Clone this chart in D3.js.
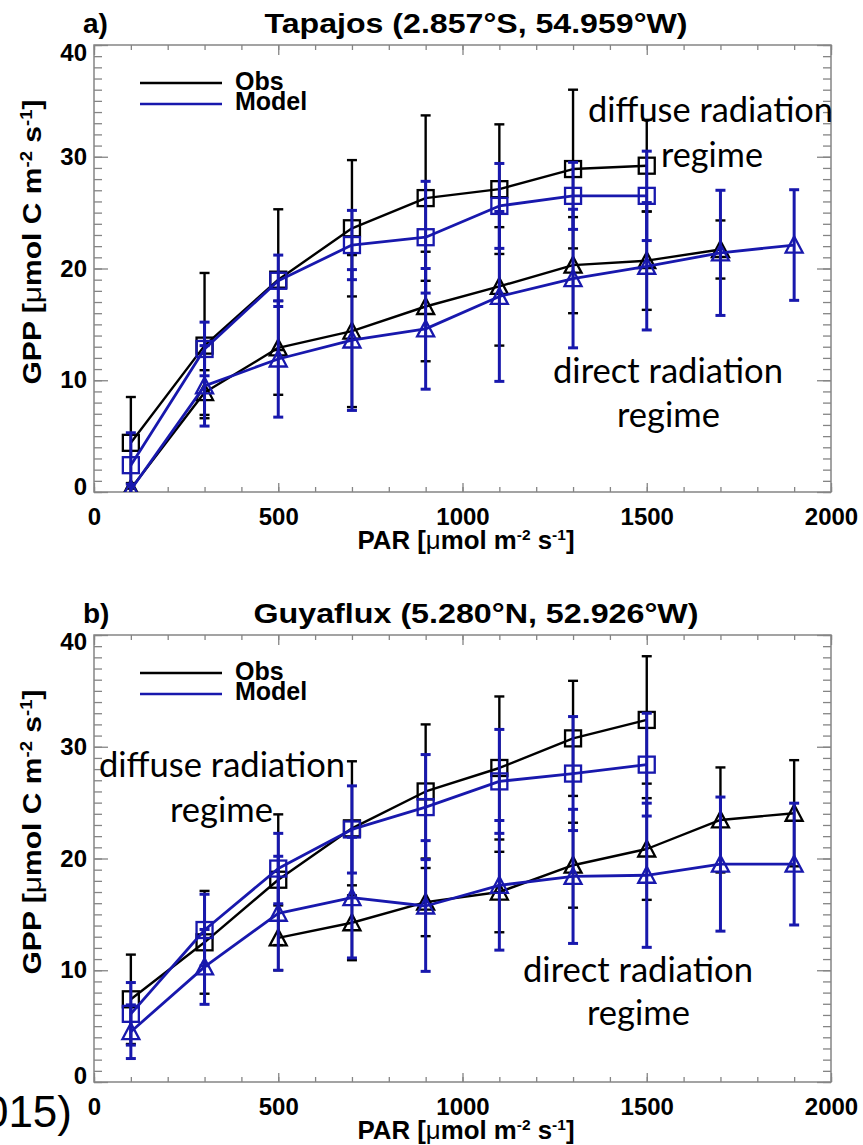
<!DOCTYPE html>
<html>
<head>
<meta charset="utf-8">
<script src="https://cdn.jsdelivr.net/npm/d3@7"></script>
<style>
  body { margin: 0; background: #fff; }
  svg { display: block; }
  .idl text, text.idl { font-family: "Liberation Sans", Arial, sans-serif; font-weight: bold; font-size: 24px; }
  .note { font-family: Lato, "Open Sans", sans-serif; font-size: 34px; }
</style>
</head>
<body>
<div id="chart"></div>
<script>
// PAR bins (µmol m-2 s-1)
const parDiffuse = [100, 300, 500, 700, 900, 1100, 1300, 1500];
const parDirect = [100, 300, 500, 700, 900, 1100, 1300, 1500, 1700, 1900];
const parTapObsDirect = [100, 300, 500, 700, 900, 1100, 1300, 1500, 1700];
const parGuyObsDirect = [500, 700, 900, 1100, 1300, 1500, 1700, 1900];

// a) Tapajos -- squares = diffuse regime, triangles = direct regime
const tapObsDiffuse = [4.4, 13.1, 19.0, 23.6, 26.3, 27.1, 28.9, 29.2];
const tapObsDiffuseSd = [4.1, 6.5, 6.3, 6.1, 7.4, 5.8, 7.1, 4.1];
const tapModelDiffuse = [2.4, 12.8, 18.9, 22.1, 22.8, 25.6, 26.5, 26.5];
const tapModelDiffuseSd = [2.9, 2.4, 2.3, 3.1, 5.0, 3.8, 3.0, 4.0];
const tapObsDirect = [0.3, 8.9, 12.9, 14.4, 16.6, 18.4, 20.3, 20.7, 21.7];
const tapObsDirectSd = [0.5, 2.0, 4.2, 6.8, 4.9, 5.3, 4.3, 4.4, 2.6];
const tapModelDirect = [0.2, 9.5, 11.9, 13.6, 14.6, 17.5, 19.1, 20.2, 21.4, 22.1];
const tapModelDirectSd = [0.5, 3.6, 5.2, 6.3, 5.4, 7.6, 6.2, 5.7, 5.6, 4.95];

// b) Guyaflux
const guyObsDiffuse = [7.4, 12.5, 18.1, 22.7, 26.0, 28.1, 30.75, 32.4];
const guyObsDiffuseSd = [4.0, 4.6, 5.85, 6.0, 6.0, 6.4, 5.15, 5.7];
const guyModelDiffuse = [6.1, 13.6, 19.1, 22.6, 24.6, 26.9, 27.6, 28.4];
const guyModelDiffuseSd = [2.8, 3.2, 3.15, 3.9, 4.7, 4.65, 5.1, 4.6];
const guyObsDirect = [12.9, 14.25, 16.1, 17.0, 19.4, 20.85, 23.45, 24.05];
const guyObsDirectSd = [2.9, 3.35, 3.05, 3.6, 3.8, 4.55, 4.7, 4.75];
const guyModelDirect = [4.5, 10.3, 15.1, 16.5, 15.75, 17.6, 18.4, 18.5, 19.5, 19.5];
const guyModelDirectSd = [2.4, 3.35, 5.1, 5.4, 5.85, 5.8, 6.0, 6.45, 6.0, 5.45];

// axes
const xTicks = [0, 500, 1000, 1500, 2000];
const xTickLabels = ["0", "500", "1000", "1500", "2000"];
const yTicks = [0, 10, 20, 30, 40];
const yTickLabels = ["0", "10", "20", "30", "40"];
const legendLabels = ["Obs", "Model"];

const W = 863, H = 1145;
const OBS = "#000000", MODEL = "#1818ad", FRAME = "#858585";

const svg = d3.select("#chart").append("svg")
    .attr("width", W)
    .attr("height", H);

const x = d3.scaleLinear().domain([0, 2000]).range([94, 831]);

const panels = [
    {
        tag: "a)", title: "Tapajos (2.857°S, 54.959°W)", titleLen: 423, top: 45, bottom: 492,
        labelShift: {0: -5, 40: 8},
        series: [
            {x: parDiffuse, y: tapObsDiffuse, sd: tapObsDiffuseSd, color: OBS, shape: "square"},
            {x: parTapObsDirect, y: tapObsDirect, sd: tapObsDirectSd, color: OBS, shape: "triangle"},
            {x: parDiffuse, y: tapModelDiffuse, sd: tapModelDiffuseSd, color: MODEL, shape: "square"},
            {x: parDirect, y: tapModelDirect, sd: tapModelDirectSd, color: MODEL, shape: "triangle"}
        ],
        notes: [
            {text: "diffuse radiation", x: 588, y: 122, len: 245},
            {text: "regime", x: 661, y: 167, len: 102},
            {text: "direct radiation", x: 553, y: 383, len: 230},
            {text: "regime", x: 617, y: 427, len: 103}
        ]
    },
    {
        tag: "b)", title: "Guyaflux (5.280°N, 52.926°W)", titleLen: 445, top: 635, bottom: 1082,
        labelShift: {0: -6, 40: 7},
        series: [
            {x: parDiffuse, y: guyObsDiffuse, sd: guyObsDiffuseSd, color: OBS, shape: "square"},
            {x: parGuyObsDirect, y: guyObsDirect, sd: guyObsDirectSd, color: OBS, shape: "triangle"},
            {x: parDiffuse, y: guyModelDiffuse, sd: guyModelDiffuseSd, color: MODEL, shape: "square"},
            {x: parDirect, y: guyModelDirect, sd: guyModelDirectSd, color: MODEL, shape: "triangle"}
        ],
        notes: [
            {text: "diffuse radiation", x: 99, y: 777, len: 246},
            {text: "regime", x: 170, y: 822, len: 103},
            {text: "direct radiation", x: 523, y: 982, len: 230},
            {text: "regime", x: 587, y: 1025, len: 103}
        ]
    }
];

panels.forEach((p, pi) => {
    const y = d3.scaleLinear().domain([0, 40]).range([p.bottom, p.top]);
    const g = svg.append("g").attr("class", "panel");
    const clipId = "clip" + pi;

    g.append("clipPath").attr("id", clipId)
        .append("rect")
        .attr("x", x(0)).attr("y", y(40))
        .attr("width", x(2000) - x(0)).attr("height", y(0) - y(40));

    // ticks: minor every 100 / 1, major at labels, all pointing inward
    const xMinor = d3.range(0, 2001, 100);
    const yMinor = d3.range(0, 41, 1);
    const axes = g.append("g").attr("class", "idl");

    axes.append("g").attr("transform", `translate(0,${p.bottom})`)
        .call(d3.axisBottom(x).tickValues(xMinor).tickSize(-5).tickSizeOuter(0).tickFormat(""));
    axes.append("g").attr("transform", `translate(0,${p.bottom})`)
        .call(d3.axisBottom(x).tickValues(xTicks).tickSize(-9).tickSizeOuter(0).tickPadding(16)
            .tickFormat((d, i) => xTickLabels[i]));
    axes.append("g").attr("transform", `translate(0,${p.top})`)
        .call(d3.axisTop(x).tickValues(xMinor).tickSize(-5).tickSizeOuter(0).tickFormat(""));
    axes.append("g").attr("transform", `translate(0,${p.top})`)
        .call(d3.axisTop(x).tickValues(xTicks).tickSize(-10).tickSizeOuter(0).tickFormat(""));

    axes.append("g").attr("transform", `translate(${x(0)},0)`)
        .call(d3.axisLeft(y).tickValues(yMinor).tickSize(-8).tickSizeOuter(0).tickFormat(""));
    const yLab = axes.append("g").attr("transform", `translate(${x(0)},0)`)
        .call(d3.axisLeft(y).tickValues(yTicks).tickSize(-14).tickSizeOuter(0).tickPadding(7)
            .tickFormat((d, i) => yTickLabels[i]));
    axes.append("g").attr("transform", `translate(${x(2000)},0)`)
        .call(d3.axisRight(y).tickValues(yMinor).tickSize(-8).tickSizeOuter(0).tickFormat(""));
    axes.append("g").attr("transform", `translate(${x(2000)},0)`)
        .call(d3.axisRight(y).tickValues(yTicks).tickSize(-14).tickSizeOuter(0).tickFormat(""));

    // end labels sit a bit inside the frame, like the original
    yLab.selectAll(".tick text")
        .attr("y", d => p.labelShift[d] || 0);

    axes.selectAll(".domain").remove();
    axes.selectAll(".tick line").attr("stroke", FRAME).attr("stroke-width", 1.3);
    axes.selectAll("text").attr("font-family", null).attr("font-size", null).attr("fill", "#000");

    g.append("rect")
        .attr("x", x(0)).attr("y", y(40))
        .attr("width", x(2000) - x(0)).attr("height", y(0) - y(40))
        .attr("fill", "none").attr("stroke", FRAME).attr("stroke-width", 1.5);

    // titles
    g.append("text").attr("class", "idl")
        .attr("x", 83).attr("y", p.top - 12)
        .style("font-size", "28px")
        .text(p.tag);
    g.append("text").attr("class", "idl")
        .attr("x", 476).attr("y", p.top - 12)
        .attr("text-anchor", "middle")
        .attr("textLength", p.titleLen).attr("lengthAdjust", "spacingAndGlyphs")
        .style("font-size", "28px")
        .text(p.title);

    // axis titles
    const xt = g.append("text").attr("class", "idl")
        .attr("x", 466).attr("y", p.bottom + 57)
        .attr("text-anchor", "middle")
        .attr("textLength", 217).attr("lengthAdjust", "spacingAndGlyphs")
        .style("font-size", "25px");
    xt.append("tspan").text("PAR [");
    xt.append("tspan").style("font-weight", "normal").text("μ");
    xt.append("tspan").text("mol m");
    xt.append("tspan").attr("dy", -9).style("font-size", "15px").text("-2");
    xt.append("tspan").attr("dy", 9).text(" s");
    xt.append("tspan").attr("dy", -9).style("font-size", "15px").text("-1");
    xt.append("tspan").attr("dy", 9).text("]");

    const yt = g.append("text").attr("class", "idl")
        .attr("transform", `translate(41,${p.top + 197}) rotate(-90)`)
        .attr("text-anchor", "middle")
        .attr("textLength", 285).attr("lengthAdjust", "spacingAndGlyphs")
        .style("font-size", "26px");
    yt.append("tspan").text("GPP [");
    yt.append("tspan").style("font-weight", "normal").text("μ");
    yt.append("tspan").text("mol C m");
    yt.append("tspan").attr("dy", -9).style("font-size", "16px").text("-2");
    yt.append("tspan").attr("dy", 9).text(" s");
    yt.append("tspan").attr("dy", -9).style("font-size", "16px").text("-1");
    yt.append("tspan").attr("dy", 9).text("]");

    // legend
    const leg = g.append("g").attr("class", "idl");
    [OBS, MODEL].forEach((c, i) => {
        leg.append("line")
            .attr("x1", 140).attr("x2", 222)
            .attr("y1", p.top + 38 + i * 21).attr("y2", p.top + 38 + i * 21)
            .attr("stroke", c).attr("stroke-width", 2.5);
        leg.append("text")
            .attr("x", 235).attr("y", p.top + 45 + i * 20)
            .style("font-size", "25px")
            .text(legendLabels[i]);
    });

    // data
    const plot = g.append("g").attr("clip-path", `url(#${clipId})`);
    const line = d3.line().x(d => x(d[0])).y(d => y(d[1]));

    p.series.forEach(s => {
        const pts = s.x.map((v, i) => [v, s.y[i], s.sd[i]]);
        const sg = plot.append("g")
            .attr("stroke", s.color)
            .attr("fill", "none");

        // error bars
        const eb = sg.selectAll(".err").data(pts).enter().append("g")
            .attr("stroke-width", s.color === MODEL ? 3 : 2.4);
        eb.append("line")
            .attr("x1", d => x(d[0])).attr("x2", d => x(d[0]))
            .attr("y1", d => y(d[1] - d[2])).attr("y2", d => y(d[1] + d[2]));
        eb.append("line")
            .attr("x1", d => x(d[0]) - 5).attr("x2", d => x(d[0]) + 5)
            .attr("y1", d => y(d[1] + d[2])).attr("y2", d => y(d[1] + d[2]));
        eb.append("line")
            .attr("x1", d => x(d[0]) - 5).attr("x2", d => x(d[0]) + 5)
            .attr("y1", d => y(d[1] - d[2])).attr("y2", d => y(d[1] - d[2]));

        sg.append("path")
            .attr("d", line(pts))
            .attr("stroke-width", s.color === MODEL ? 2.8 : 2.4)
            .attr("stroke-linejoin", "round");

        const mk = sg.selectAll(".mk").data(pts).enter();
        if (s.shape === "square") {
            mk.append("rect")
                .attr("x", d => x(d[0]) - 8).attr("y", d => y(d[1]) - 8)
                .attr("width", 16).attr("height", 16)
                .attr("stroke-width", 2.3);
        } else {
            mk.append("path")
                .attr("d", d => {
                    const cx = x(d[0]), cy = y(d[1]);
                    return `M${cx - 8.5},${cy + 7.5}L${cx},${cy - 8.5}L${cx + 8.5},${cy + 7.5}Z`;
                })
                .attr("stroke-width", 2.3)
                .attr("stroke-linejoin", "miter");
        }
    });

    // regime annotations
    p.notes.forEach(n => {
        g.append("text").attr("class", "note")
            .attr("x", n.x).attr("y", n.y)
            .attr("textLength", n.len).attr("lengthAdjust", "spacingAndGlyphs")
            .text(n.text);
    });
});

// leftover citation text cut by the page edge
svg.append("text")
    .attr("x", 72).attr("y", 1127)
    .attr("text-anchor", "end")
    .style("font-family", "'Liberation Sans', Arial, sans-serif")
    .style("font-size", "44px")
    .text("2015)");
</script>
</body>
</html>
